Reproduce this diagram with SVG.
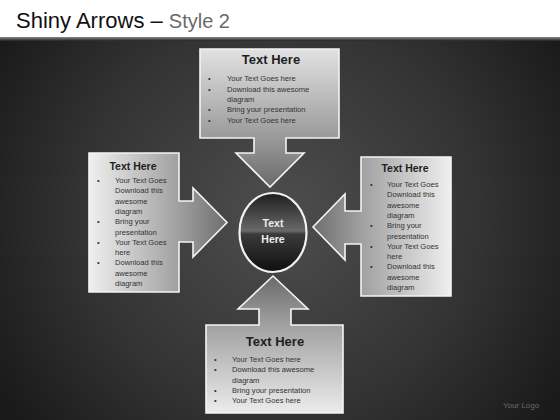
<svg xmlns="http://www.w3.org/2000/svg" width="560" height="420" viewBox="0 0 560 420">
<defs>
<radialGradient id="bg" cx="280" cy="215" r="330" gradientUnits="userSpaceOnUse">
<stop offset="0" stop-color="#4e4e4e"/>
<stop offset="0.6" stop-color="#333"/>
<stop offset="1" stop-color="#1a1a1a"/>
</radialGradient>
<linearGradient id="gTop" x1="0" y1="49" x2="0" y2="187" gradientUnits="userSpaceOnUse">
<stop offset="0" stop-color="#e2e2e2"/>
<stop offset="0.65" stop-color="#999"/>
<stop offset="1" stop-color="#6a6a6a"/>
</linearGradient>
<linearGradient id="gBot" x1="0" y1="413" x2="0" y2="276" gradientUnits="userSpaceOnUse">
<stop offset="0" stop-color="#ececec"/>
<stop offset="0.65" stop-color="#a0a0a0"/>
<stop offset="1" stop-color="#6a6a6a"/>
</linearGradient>
<linearGradient id="gLeft" x1="89" y1="0" x2="227" y2="0" gradientUnits="userSpaceOnUse">
<stop offset="0" stop-color="#efefef"/>
<stop offset="0.65" stop-color="#a0a0a0"/>
<stop offset="1" stop-color="#6e6e6e"/>
</linearGradient>
<linearGradient id="gRight" x1="451" y1="0" x2="313" y2="0" gradientUnits="userSpaceOnUse">
<stop offset="0" stop-color="#efefef"/>
<stop offset="0.65" stop-color="#a0a0a0"/>
<stop offset="1" stop-color="#6e6e6e"/>
</linearGradient>
<linearGradient id="gBall" x1="0" y1="193" x2="0" y2="272" gradientUnits="userSpaceOnUse">
<stop offset="0" stop-color="#1e1e1e"/>
<stop offset="0.25" stop-color="#444"/>
<stop offset="0.48" stop-color="#6a6a6a"/>
<stop offset="0.52" stop-color="#3a3a3a"/>
<stop offset="0.8" stop-color="#222"/>
<stop offset="1" stop-color="#0e0e0e"/>
</linearGradient>
<linearGradient id="gEdge" x1="0" y1="37" x2="0" y2="41" gradientUnits="userSpaceOnUse">
<stop offset="0" stop-color="#8a8a8a"/>
<stop offset="1" stop-color="#222"/>
</linearGradient>
</defs>
<style>
.shape{stroke:#f4f4f4;stroke-width:1.6;stroke-linejoin:miter}
.h{font-family:"Liberation Sans",Arial,sans-serif;font-weight:bold;fill:#1e1e1e;text-anchor:middle}
.t{font-family:"Liberation Sans",Arial,sans-serif;font-size:7.6px;fill:#333333}
.b{font-family:"Liberation Sans",Arial,sans-serif;font-size:7.6px;fill:#333333}
</style>
<rect x="0" y="0" width="560" height="420" fill="url(#bg)"/>
<rect x="0" y="0" width="560" height="37" fill="#ffffff"/>
<rect x="0" y="37" width="560" height="4" fill="url(#gEdge)"/>
<text x="16" y="28" font-family="'Liberation Sans',Arial,sans-serif" font-size="22" fill="#111">Shiny Arrows – <tspan fill="#6a6a6a" font-size="20">Style 2</tspan></text>
<text x="503" y="408" font-family="'Liberation Sans',Arial,sans-serif" font-size="8" fill="#6a6a6a">Your Logo</text>

<g id="connectors"></g>

<g id="node-top">
<path class="shape" fill="url(#gTop)" d="M200,49 H339 V138 H286 V153 H304 L270,187 L236,153 H254 V138 H200 Z"/>
<text class="h" x="271" y="64" font-size="13">Text Here</text>
<g class="b"><text x="208" y="81">•</text><text x="208" y="91.5">•</text><text x="208" y="112">•</text><text x="208" y="122.5">•</text></g>
<text class="t" x="227" y="81">Your Text Goes here</text>
<text class="t" x="227" y="91.5">Download this awesome</text>
<text class="t" x="227" y="102">diagram</text>
<text class="t" x="227" y="112">Bring your presentation</text>
<text class="t" x="227" y="122.5">Your Text Goes here</text>
</g>

<g id="node-left">
<path class="shape" fill="url(#gLeft)" d="M89,153 H179 V201 H193 V188 L227,222.5 L193,257 V242 H179 V292 H89 Z"/>
<text class="h" x="133" y="170" font-size="10.5">Text Here</text>
<g class="b"><text x="97" y="183">•</text><text x="97" y="224">•</text><text x="97" y="244.5">•</text><text x="97" y="265">•</text></g>
<text class="t" x="115" y="183">Your Text Goes</text>
<text class="t" x="115" y="193.3">Download this</text>
<text class="t" x="115" y="203.6">awesome</text>
<text class="t" x="115" y="213.9">diagram</text>
<text class="t" x="115" y="224.2">Bring your</text>
<text class="t" x="115" y="234.5">presentation</text>
<text class="t" x="115" y="244.8">Your Text Goes</text>
<text class="t" x="115" y="255.1">here</text>
<text class="t" x="115" y="265.4">Download this</text>
<text class="t" x="115" y="275.7">awesome</text>
<text class="t" x="115" y="286">diagram</text>
</g>

<g id="node-right">
<path class="shape" fill="url(#gRight)" d="M451,157 V296 H361 V244 H345 V260 L313,227 L345,194 V211 H361 V157 Z"/>
<text class="h" x="405" y="172" font-size="10.5">Text Here</text>
<g class="b"><text x="370" y="187">•</text><text x="370" y="228">•</text><text x="370" y="248.6">•</text><text x="370" y="269.2">•</text></g>
<text class="t" x="387" y="187">Your Text Goes</text>
<text class="t" x="387" y="197.3">Download this</text>
<text class="t" x="387" y="207.6">awesome</text>
<text class="t" x="387" y="217.9">diagram</text>
<text class="t" x="387" y="228.2">Bring your</text>
<text class="t" x="387" y="238.5">presentation</text>
<text class="t" x="387" y="248.8">Your Text Goes</text>
<text class="t" x="387" y="259.1">here</text>
<text class="t" x="387" y="269.4">Download this</text>
<text class="t" x="387" y="279.7">awesome</text>
<text class="t" x="387" y="290">diagram</text>
</g>

<g id="node-bottom">
<path class="shape" fill="url(#gBot)" d="M206,413 V325 H259 V309 H238 L273,276 L308,309 H291 V325 H343 V413 Z"/>
<text class="h" x="275" y="346" font-size="13">Text Here</text>
<g class="b"><text x="214" y="362">•</text><text x="214" y="372.3">•</text><text x="214" y="392.9">•</text><text x="214" y="403.2">•</text></g>
<text class="t" x="232" y="362">Your Text Goes here</text>
<text class="t" x="232" y="372.3">Download this awesome</text>
<text class="t" x="232" y="382.6">diagram</text>
<text class="t" x="232" y="392.9">Bring your presentation</text>
<text class="t" x="232" y="403.2">Your Text Goes here</text>
</g>

<g id="node-center">
<ellipse cx="273" cy="232.5" rx="33.5" ry="39.5" fill="url(#gBall)" stroke="#f2f2f2" stroke-width="2.2"/>
<text x="273" y="227" font-family="'Liberation Sans',Arial,sans-serif" font-size="10.5" font-weight="bold" fill="#eeeeee" text-anchor="middle">Text</text>
<text x="273" y="243" font-family="'Liberation Sans',Arial,sans-serif" font-size="10.5" font-weight="bold" fill="#eeeeee" text-anchor="middle">Here</text>
</g>
</svg>
